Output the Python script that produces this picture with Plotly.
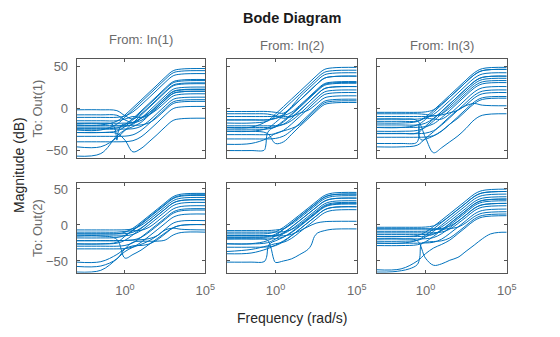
import plotly.graph_objects as go

W, H = 560, 337

# log10 of frequency (rad/s) shared by most curves
LOGW = [-3, -1.5, -0.5, 0, 0.5, 1, 1.5, 2, 2.5, 3, 3.5, 5]

# ---- magnitude curves (dB) ----
MAG_11 = [
    [-20, -20, -15.5, -8.2, 0.6, 9.5, 18.5, 27.5, 36.6, 44.4, 46.4, 47],
    [-26, -26, -19, -10.8, -2, 7, 16, 25, 34.1, 41.9, 43.9, 44.5],
    [-11, -11, -10.9, -9.4, -4.4, 3.7, 12.5, 21.5, 30.6, 38.4, 40.4, 41],
    [-24, -24, -23.7, -19.6, -12.2, -3.5, 5.5, 14.5, 23.6, 31.4, 33.4, 34],
    [-29, -29, -27.2, -21.9, -13.7, -4.8, 4.2, 13.2, 22.3, 30.1, 32.1, 32.7],
    [-2, -2, -3, -9, -13, -7, 1.5, 10.5, 19.6, 27.4, 29.4, 30],
    [-22.5, -22.5, -22.5, -21.9, -19, -12.1, -3.4, 5.5, 14.6, 22.4, 24.4, 25],
    [-15, -15, -15, -13, -10, -11, -5.5, 3, 12.1, 19.9, 21.9, 22.5],
    [-18, -18, -18, -17.8, -17.5, -14.7, -7.9, 0.6, 9.6, 17.4, 19.4, 20],
    [-8, -8, -8.5, -14, -17, -12, -8, -1.6, 6.7, 14.4, 16.4, 17],
    [-25, -25, -25, -24.8, -24.5, -21.7, -15.1, -6.4, 2.6, 10.4, 12.4, 13],
    [-33.5, -33.5, -33.5, -33.3, -31.7, -26.5, -18.4, -9.5, -0.4, 7.4, 9.4, 10],
    [-20.5, -20.5, -20.5, -20.5, -20.4, -20, -17.5, -11, -2.3, 5.4, 7.4, 8],
    [-40, -40, -40, -39.8, -38.7, -34.2, -26.3, -17.5, -8.4, -0.6, 1.4, 2],
    [-29, -29, -30, -38, -52, -48, -40, -31.5, -22.4, -14.6, -12.6, -12],
    [-57, -54, -33, -26, -22, -17, -8.5, 0.5, 9.6, 17.4, 19.4, 20],
    [-46, -45.9, -35.1, -26.5, -17.5, -8.5, 0.5, 9.5, 18.6, 26.4, 28.4, 29],
]
SPX_11 = [[-3, -1.5, -0.8, -0.6, -0.5, -0.4, -0.2, 0, 0.5, 1, 1.5, 2, 2.5, 3, 3.5, 5]]
SPY_11 = [[-18, -18, -19, -26, -38, -27, -20, -19, -17, -12, -6.2, 2.5, 11.6, 19.4, 21.4, 22]]

MAG_12 = [
    [-23, -22.7, -15.2, -7, 1.9, 10.9, 19.9, 28.9, 38, 45.8, 47.8, 48.4],
    [-17.7, -17.7, -15.5, -9.7, -1.4, 7.5, 16.5, 25.5, 34.6, 42.4, 44.4, 45],
    [-4, -4, -4, -5, -6, 2, 13.5, 22.5, 31.6, 39.4, 41.4, 42],
    [-27.5, -27.5, -24, -17.1, -8.5, 0.5, 9.5, 18.5, 27.6, 35.4, 37.4, 38],
    [-10, -10, -10, -9.8, -8.8, -4.8, 3.3, 12, 21.1, 28.9, 30.9, 31.5],
    [-25, -25, -24.8, -22.5, -16.3, -7.9, 1, 10, 19.1, 26.9, 28.9, 29.5],
    [-14, -14, -14, -12, -10, -9.8, -2.6, 6.1, 15.2, 23, 25, 25.6],
    [-21, -21, -21, -20.8, -19.5, -14.7, -6.8, 2.1, 11.2, 19, 21, 21.6],
    [-31.5, -31.5, -31.5, -30.4, -26.4, -18.7, -10, -1, 8.1, 15.9, 17.9, 18.5],
    [-6.7, -6.7, -7, -9, -12, -10, -6, -2.7, 4.4, 12, 14, 14.6],
    [-36.6, -36.6, -36.6, -36, -33.2, -26.4, -17.9, -8.9, 0.2, 8, 10, 10.6],
    [-43, -42, -36, -30, -27, -24, -19.5, -10.8, -1.7, 6.1, 8.1, 8.7],
    [-27.5, -27.5, -30, -42, -40, -31, -21.5, -12.8, -3.7, 4.1, 6.1, 6.7],
    [-23, -23, -23, -22, -19, -12, -3, 6, 15.2, 23, 25, 25.6],
    [-14, -14, -13.8, -12.4, -7.3, 0.7, 9.5, 18.5, 27.6, 35.4, 37.4, 38],
]
SPX_12 = [[-3, -1.5, -0.7, -0.6, -0.5, -0.3, 0, 0.5, 1, 1.5, 2, 2.5, 3, 3.5, 5]]
SPY_12 = [[-50.4, -50.4, -50, -45, -30, -25, -22, -15, -7, 2, 11, 20.1, 27.9, 29.9, 30.5]]

MAG_13 = [
    [-17.7, -17.7, -15.9, -10.6, -2.5, 6.4, 15.4, 24.4, 33.4, 41.9, 46.9, 48.4],
    [-5, -5, -5, -4.5, -2, 4.9, 13, 22, 31, 39.5, 44.5, 46],
    [-13, -13, -13, -11.8, -7.5, 0.2, 9, 18, 27, 35.5, 40.5, 42],
    [-20, -20, -20, -17.9, -12.2, -3.9, 5, 14, 23, 31.5, 36.5, 38],
    [-27.5, -27.5, -26.5, -22.8, -15.3, -6.6, 2.4, 11.4, 20.4, 28.9, 33.9, 35.4],
    [-10, -10, -10, -10, -9.4, -6.6, 0.1, 8.7, 17.7, 26.2, 31.2, 32.7],
    [-22.8, -22.8, -22.8, -22, -18.6, -11.4, -2.7, 6.3, 15.3, 23.8, 28.8, 30.3],
    [-15.7, -15.7, -15.5, -12, -13, -13, -6.8, 1.6, 10.6, 19.1, 24.1, 25.6],
    [-30.3, -30.3, -30.3, -29.7, -26.8, -20, -11.4, -2.4, 6.6, 15.1, 20.1, 21.6],
    [-6.7, -6.7, -6.7, -7.5, -9, -8, -5.5, -2.5, 3.8, 12, 17, 18.5],
    [-34.6, -34.6, -34.6, -34.4, -32.7, -27.3, -19.1, -10.2, -1.2, 7.3, 12.3, 13.8],
    [-13, -13, -15, -35, -53, -47, -40, -33, -24, -14, -8.5, -6.7],
    [-46, -46, -44, -36, -28, -19, -10, -2, 3, 5.5, 3.5, 2.8],
    [-23, -23, -20, -13.5, -4.8, 4, 13, 22, 31, 39.5, 44.5, 46],
    [-30, -30, -29.5, -21.5, -12.8, -4, 5, 14, 23, 31.5, 36.5, 38],
]
SPX_13 = [[-3, -1.5, -0.6, -0.45, -0.4, -0.35, -0.2, 0, 0.5, 1, 1.5, 2, 2.5, 3, 3.5, 5]]
SPY_13 = [[-42, -42, -41.5, -38, -20, -36, -38, -37, -33, -27, -19, -12, -3.2, 5.3, 10.3, 11.8]]

MAG_21 = [
    [-12.4, -12.4, -12.2, -10.2, -4.5, 3.8, 12.8, 21.8, 30.8, 39.3, 42.8, 43.8],
    [-18, -18, -17.4, -14.5, -7.6, 1, 10, 19, 28, 36.5, 40, 41],
    [-6.9, -6.9, -6.9, -6.7, -5.4, -0.7, 7.3, 16.2, 25.2, 33.7, 37.2, 38.2],
    [-26.3, -26.3, -25.3, -21.3, -13.7, -5, 4, 13, 22, 30.5, 34, 35],
    [-15.2, -15.2, -15.2, -14.9, -13.2, -7.8, 0.4, 9.3, 18.3, 26.8, 30.3, 31.3],
    [-10, -10, -10, -9, -8, -7.5, -3.3, 4.8, 13.7, 22.2, 25.7, 26.7],
    [-29.5, -29.5, -29.5, -28.5, -24.7, -17.1, -8.3, 0.6, 9.6, 18.1, 21.6, 22.6],
    [-21.7, -21.7, -21.7, -21.5, -20.8, -17.3, -10, -1.2, 7.7, 16.2, 19.7, 20.7],
    [-33.2, -33.2, -33.2, -32.8, -30.5, -24.2, -15.7, -6.8, 2.2, 10.7, 14.2, 15.2],
    [-15.2, -15.2, -20, -46, -41, -35, -27, -19, -11, -4, -0.5, 0.5],
    [-65.4, -63, -47, -37, -31, -27, -22, -15, -6, 2.5, 5.5, 6],
    [-57.6, -57, -47, -33, -24, -22.6, -22.6, -22.5, -21, -14, -10.5, -10],
    [-51.6, -51, -41, -33, -29, -28.5, -26.5, -20.8, -12.4, -4, -0.5, 0.5],
    [-22, -22, -22, -21.5, -21, -20.5, -19, -15, -7, -4.5, -6, -6.9],
    [-26.3, -26.3, -24, -15.7, -7, 2, 11, 20, 29, 37.5, 41, 42],
    [-12.4, -12.4, -12.4, -12, -10.1, -4.3, 4, 13, 22, 30.5, 34, 35],
]
SPX_21 = []
SPY_21 = []

MAG_22 = [
    [-12.4, -12.4, -12, -9.6, -3.2, 5.3, 14.2, 23.2, 32.2, 40.7, 44.2, 45.2],
    [-17, -17, -16.2, -12.9, -5.8, 2.9, 11.9, 20.9, 29.9, 38.4, 41.9, 42.9],
    [-7.8, -7.8, -7.8, -7, -5.1, 1.2, 9.7, 18.6, 27.6, 36.1, 39.6, 40.6],
    [-26.3, -26.3, -24.7, -19.6, -11.6, -2.7, 6.3, 15.3, 24.3, 32.8, 36.3, 37.3],
    [-14.7, -14.7, -14.7, -14.3, -12, -5.8, 2.7, 11.6, 20.6, 29.1, 32.6, 33.6],
    [-10, -10, -10, -9.8, -9.3, -6.3, 0.7, 9.3, 18.3, 26.8, 30.3, 31.3],
    [-19.4, -19.4, -19.4, -19, -16.7, -10.4, -1.9, 7, 16, 24.5, 28, 29],
    [-30.9, -30.9, -30.5, -28.7, -23, -14.7, -5.7, 3.3, 12.3, 20.8, 24.3, 25.3],
    [-36.9, -34, -29, -26, -24, -18.5, -9.8, -0.8, 8.2, 16.7, 20.2, 21.2],
    [-14.7, -14.7, -14.7, -15, -15, -13, -8, -2.5, 2.5, 4.5, 5, 5.1],
    [-17, -17, -16.8, -15.6, -10.6, -2.6, 6.3, 15.3, 24.3, 32.8, 36.3, 37.3],
    [-26, -26, -21.9, -14.8, -6.1, 2.9, 11.9, 20.9, 29.9, 38.4, 41.9, 42.9],
    [-40, -39, -33, -28, -22, -14.5, -5.7, 3.3, 12.3, 20.8, 24.3, 25.3],
]
SPX_22 = [
    [-3, -1.5, -0.5, -0.3, -0.1, 0, 0.5, 1, 1.5, 2, 2.2, 2.4, 2.6, 3, 3.5, 5],
    [-3, -1.5, -0.7, -0.55, -0.45, -0.3, 0, 0.5, 1, 1.5, 2, 2.5, 3, 3.5, 5],
]
SPY_22 = [
    [-19.4, -19.4, -21, -30, -48, -52, -50, -47, -41, -34, -28, -16, -11, -8, -6, -5.5],
    [-51.6, -51.6, -51, -45, -30, -25, -22, -17, -9.5, -1, 8, 17, 25.5, 29, 30],
]

MAG_23 = [
    [-16.1, -16.1, -14.7, -10, -2, 6.8, 15.8, 24.8, 33.8, 42.8, 47.8, 49.8],
    [-3.2, -3.2, -3.2, -2.9, -1.2, 4.3, 12.6, 21.5, 30.5, 39.5, 44.5, 46.5],
    [-22.6, -22.6, -21.3, -16.8, -8.9, -0.1, 8.9, 17.9, 26.9, 35.9, 40.9, 42.9],
    [-8.8, -8.8, -8.8, -8.6, -7.3, -2.6, 5.4, 14.2, 23.2, 32.2, 37.2, 39.2],
    [-28.6, -28.6, -27.5, -23.4, -15.8, -7, 2, 11, 20, 29, 34, 36],
    [-13.4, -13.4, -13.4, -13.2, -12.2, -7.9, -0.3, 8.6, 17.6, 26.6, 31.6, 33.6],
    [-19.4, -19.4, -19.4, -19.1, -17.5, -12.1, -3.8, 5, 14, 23, 28, 30],
    [-11, -11, -11, -11, -10.8, -9.9, -5.8, 2, 10.7, 19.7, 24.7, 26.7],
    [-25.3, -25.3, -25.3, -25, -24, -19.6, -11.7, -2.9, 6.1, 15.1, 20.1, 22.1],
    [-5.5, -5.5, -5.5, -5.5, -6, -6, -5, -3, 3.1, 11.5, 16.4, 18.4],
    [-62.2, -61, -50, -40, -32, -27, -21, -12.1, -3.1, 5.9, 10.9, 12.9],
    [-25.3, -25.3, -21.3, -14.2, -5.5, 3.5, 12.5, 21.5, 30.5, 39.5, 44.5, 46.5],
    [-16.1, -16.1, -16.1, -15.6, -13, -6.5, 2, 11, 20, 29, 34, 36],
    [-5.5, -5.5, -5.5, -5.5, -5.4, -4.8, -1.7, 5.2, 14, 23, 28, 30],
]
SPX_23 = [
    [-3, -2, -1, -0.5, -0.35, -0.25, 0, 0.5, 1, 1.5, 2, 2.5, 3, 3.5, 5],
    [-3, -1.5, -0.5, 0, 0.5, 1, 1.5, 2, 2.5, 3, 3.5, 4, 4.5, 5],
]
SPY_23 = [
    [-65.4, -65, -61, -55, -45, -26, -24, -23, -22, -18, -9.8, -0.8, 8.2, 13.2, 15.2],
    [-19.4, -19.4, -22, -46, -56, -54, -49, -45, -36.5, -28, -19.2, -12.5, -10.4, -10.1],
]

INPUTS = ["From: In(1)", "From: In(2)", "From: In(3)"]
OUTPUTS = ["To: Out(1)", "To: Out(2)"]
YTICKS = [-50, 0, 50]
XTICKS = [1, 1e5]
XTICKTEXT = ["10<sup>0</sup>", "10<sup>5</sup>"]

PANELS = [
    [(MAG_11, SPX_11, SPY_11), (MAG_12, SPX_12, SPY_12), (MAG_13, SPX_13, SPY_13)],
    [(MAG_21, SPX_21, SPY_21), (MAG_22, SPX_22, SPY_22), (MAG_23, SPX_23, SPY_23)],
]

# ---- layout geometry (pixels) ----
COLS = [(76.7, 205.3), (226.7, 356.7), (376.7, 506.7)]
ROWS = [(58.7, 158.3), (182.7, 272.7)]
YRANGES = [[-59.6, 58.7], [-66.3, 58.7]]

BLUE = "#0072BD"
FONT = "Liberation Sans, Arial, Helvetica, sans-serif"
AXCOL = "#555555"
TICKCOL = "#6b6b6b"

fig = go.Figure()
layout = {}

def px_x(p):
    return p / W

def px_y(p):
    return 1 - p / H

for r in range(2):
    for c in range(3):
        idx = r * 3 + c + 1
        xa = "x" if idx == 1 else f"x{idx}"
        ya = "y" if idx == 1 else f"y{idx}"
        mags, spx, spy = PANELS[r][c]
        curves = [(LOGW, m) for m in mags] + list(zip(spx, spy))
        for lw, mg in curves:
            fig.add_trace(go.Scatter(
                x=[10 ** v for v in lw], y=mg, xaxis=xa, yaxis=ya,
                mode="lines", line=dict(color=BLUE, width=1, shape="spline"),
                hoverinfo="skip", showlegend=False))
        x0, x1 = COLS[c]
        y0, y1 = ROWS[r]
        xaxis = dict(
            domain=[px_x(x0), px_x(x1)], anchor=ya, type="log", range=[-3, 5],
            tickvals=XTICKS, ticks="inside", ticklen=3, tickcolor=AXCOL,
            mirror="allticks", showline=True, linecolor=AXCOL, linewidth=1,
            showgrid=False, zeroline=False, automargin=False)
        if r == 1:
            xaxis.update(ticktext=XTICKTEXT, showticklabels=True, ticklabelstandoff=6,
                         tickfont=dict(family=FONT, size=13, color=TICKCOL))
        else:
            xaxis.update(showticklabels=False)
        yaxis = dict(
            domain=[px_y(y1), px_y(y0)], anchor=xa, range=YRANGES[r],
            tickvals=YTICKS, ticks="inside", ticklen=3, tickcolor=AXCOL,
            mirror="allticks", showline=True, linecolor=AXCOL, linewidth=1,
            showgrid=False, zeroline=False, automargin=False)
        if c == 0:
            yaxis.update(showticklabels=True, ticklabelstandoff=5,
                         tickfont=dict(family=FONT, size=13, color=TICKCOL))
        else:
            yaxis.update(showticklabels=False)
        layout["xaxis" if idx == 1 else f"xaxis{idx}"] = xaxis
        layout["yaxis" if idx == 1 else f"yaxis{idx}"] = yaxis

annotations = [
    dict(text="<b>Bode Diagram</b>", x=px_x(292), y=px_y(18),
         font=dict(family=FONT, size=14.5, color="#1a1a1a")),
    dict(text=INPUTS[0], x=px_x(141), y=px_y(39),
         font=dict(family=FONT, size=13, color=TICKCOL)),
    dict(text=INPUTS[1], x=px_x(292), y=px_y(45),
         font=dict(family=FONT, size=13, color=TICKCOL)),
    dict(text=INPUTS[2], x=px_x(442), y=px_y(45),
         font=dict(family=FONT, size=13, color=TICKCOL)),
    dict(text=OUTPUTS[0], x=px_x(37), y=px_y(108.5), textangle=-90,
         font=dict(family=FONT, size=13, color=TICKCOL)),
    dict(text=OUTPUTS[1], x=px_x(37), y=px_y(228), textangle=-90,
         font=dict(family=FONT, size=13, color=TICKCOL)),
    dict(text="Magnitude (dB)", x=px_x(19), y=px_y(165), textangle=-90,
         font=dict(family=FONT, size=14, color="#262626")),
    dict(text="Frequency (rad/s)", x=px_x(292), y=px_y(318),
         font=dict(family=FONT, size=14, color="#262626")),
]
for a in annotations:
    a.update(xref="paper", yref="paper", showarrow=False,
             xanchor="center", yanchor="middle")

fig.update_layout(
    width=W, height=H, autosize=False,
    margin=dict(l=0, r=0, t=0, b=0),
    paper_bgcolor="white", plot_bgcolor="white",
    annotations=annotations, showlegend=False,
    **layout)

fig.write_html("out.html")
